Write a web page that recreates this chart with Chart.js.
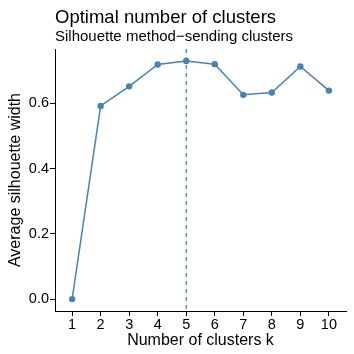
<!DOCTYPE html>
<html>
<head>
<meta charset="utf-8">
<script src="https://cdn.jsdelivr.net/npm/chart.js@4/dist/chart.umd.min.js"></script>
<style>
  html, body { margin: 0; padding: 0; background: #fff; }
  #wrap { width: 354px; height: 354px; }
</style>
</head>
<body>
<div id="wrap"><canvas id="silChart" width="354" height="354"></canvas></div>
<script>
// values
var clusters = [1, 2, 3, 4, 5, 6, 7, 8, 9, 10];
var silWidth = [0.0, 0.592, 0.652, 0.719, 0.730, 0.720, 0.626, 0.633, 0.713, 0.639];
var bestK = 5;
var titleText = "Optimal number of clusters";
var subtitleText = "Silhouette method\u2212sending clusters";

var lineColor = "#4682B4";
var fontFam = "'Liberation Sans', Arial, sans-serif";

// dashed vertical line at the optimal k + titles aligned to the panel
var extras = {
  id: "extras",
  afterDatasetsDraw: function(chart) {
    var ctx = chart.ctx;
    var area = chart.chartArea;
    var x = chart.scales.x.getPixelForValue(bestK);
    ctx.save();
    ctx.strokeStyle = lineColor;
    ctx.lineWidth = 1.3;
    ctx.setLineDash([4, 4]);
    ctx.beginPath();
    ctx.moveTo(x, area.top);
    ctx.lineTo(x, area.bottom);
    ctx.stroke();
    ctx.restore();
  },
  afterDraw: function(chart) {
    var ctx = chart.ctx;
    var left = chart.chartArea.left;
    ctx.save();
    ctx.fillStyle = "#000";
    ctx.textAlign = "left";
    ctx.textBaseline = "alphabetic";
    ctx.font = "18.5px " + fontFam;
    ctx.fillText(titleText, left, 23);
    ctx.font = "15px " + fontFam;
    ctx.fillText(subtitleText, left, 41);
    ctx.restore();
  }
};

var points = clusters.map(function(k, i) { return { x: k, y: silWidth[i] }; });

new Chart(document.getElementById("silChart"), {
  type: "line",
  data: {
    datasets: [{
      data: points,
      borderColor: lineColor,
      backgroundColor: lineColor,
      borderWidth: 1.5,
      pointRadius: 3.2,
      pointHoverRadius: 3.2,
      pointBorderWidth: 0,
      tension: 0
    }]
  },
  options: {
    responsive: false,
    animation: false,
    layout: { padding: { top: 49, right: 8, left: 0, bottom: 0 } },
    plugins: { legend: { display: false }, tooltip: { enabled: false } },
    scales: {
      x: {
        type: "linear",
        min: 0.4,
        max: 10.6,
        afterFit: function(s) { s.height = 43; },
        border: { display: true, color: "#000", width: 1 },
        grid: { drawOnChartArea: false, drawTicks: true, tickLength: 5, color: "#000" },
        ticks: { stepSize: 1, includeBounds: false, color: "#000", padding: 0, font: { family: fontFam, size: 14.5 } },
        title: { display: true, text: "Number of clusters k", color: "#000", padding: { top: 0, bottom: 4 }, font: { family: fontFam, size: 16 } }
      },
      y: {
        min: -0.0365,
        max: 0.7665,
        afterFit: function(s) { s.width = 55; },
        border: { display: true, color: "#000", width: 1 },
        grid: { drawOnChartArea: false, drawTicks: true, tickLength: 5, color: "#000" },
        ticks: {
          stepSize: 0.2,
          includeBounds: false,
          color: "#000",
          padding: 1,
          font: { family: fontFam, size: 14.5 },
          callback: function(v) { return v.toFixed(1); }
        },
        title: { display: true, text: "Average silhouette width", color: "#000", padding: { top: 6, bottom: 0 }, font: { family: fontFam, size: 16 } }
      }
    }
  },
  plugins: [extras]
});
</script>
</body>
</html>
